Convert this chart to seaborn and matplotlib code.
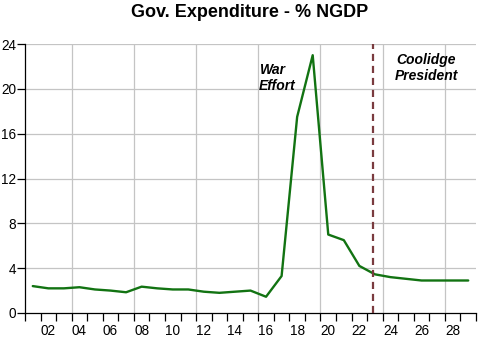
import matplotlib
matplotlib.use("Agg")
import matplotlib.pyplot as plt
import seaborn as sns
import pandas as pd
import numpy as np

# Federal government expenditure as a share of nominal GDP, 1901-1929
years = list(range(1901, 1930))
spending = [2.4, 2.2, 2.2, 2.3, 2.1, 2.0, 1.85, 2.35, 2.2, 2.1,
            2.1, 1.9, 1.8, 1.9, 2.0, 1.45, 3.3, 17.5, 23.0, 7.0,
            6.5, 4.2, 3.45, 3.2, 3.05, 2.9, 2.9, 2.9, 2.9]
label_years = list(range(1902, 1929, 2))
label_text = [f"{y % 100:02d}" for y in label_years]
y_ticks = [0, 4, 8, 12, 16, 20, 24]
coolidge_start = 1922.9

df = pd.DataFrame({"year": years, "pct": spending})

sns.set_style("white")
plt.rcParams["font.family"] = ["Liberation Sans", "DejaVu Sans"]
plt.rcParams["text.color"] = "black"
plt.rcParams["xtick.color"] = "black"
plt.rcParams["ytick.color"] = "black"

fig = plt.figure(figsize=(4.79, 3.37), dpi=100)
ax = fig.add_axes([25 / 479, 1 - 313 / 337, 451 / 479, 269 / 337])

ax.set_xlim(years[0] - 0.5, years[-1] + 0.5)
ax.set_ylim(0, 24)

# light grid: horizontal at every labelled value, vertical every four years
for v in y_ticks[1:]:
    ax.axhline(v, color="#c4c4c4", lw=0.9, zorder=0)
for b in np.arange(years[0] + 2.5, years[-1] + 0.5, 4):
    ax.axvline(b, color="#c4c4c4", lw=0.9, zorder=0)

sns.lineplot(data=df, x="year", y="pct", ax=ax, color="#127312", lw=1.7, zorder=3)

ax.axvline(coolidge_start, color="#7a3b3f", lw=1.6, ls=(0, (3.2, 2.2)), zorder=4)

# year boundaries carry the tick marks, labels sit in the middle of each year
ax.set_xticks(np.arange(years[0] - 0.5, years[-1] + 0.6, 1))
ax.set_xticklabels([])
ax.set_xticks(label_years, minor=True)
ax.set_xticklabels(label_text, minor=True)
ax.tick_params(axis="x", which="major", direction="out", length=5.5, width=0.9, color="black", bottom=True)
ax.tick_params(axis="x", which="minor", length=0, pad=8, labelsize=9.8, labelcolor="black")
ax.set_yticks(y_ticks)
ax.set_yticklabels([str(v) for v in y_ticks])
ax.tick_params(axis="y", direction="out", length=5.5, width=0.9, color="black", left=True, pad=1,
               labelsize=9.8, labelcolor="black")

for side in ("top", "right"):
    ax.spines[side].set_visible(False)
for side in ("left", "bottom"):
    ax.spines[side].set_color("black")
    ax.spines[side].set_linewidth(0.9)

ax.set_xlabel("")
ax.set_ylabel("")

note = dict(fontsize=10, fontweight="bold", fontstyle="italic", ha="left", va="center", color="black")
ax.text(1915.6, 21.7, "War", **note)
ax.text(1915.5, 20.25, "Effort", **note)
ax.text(1924.4, 22.55, "Coolidge", **note)
ax.text(1924.3, 21.15, "President", **note)

fig.text(249.5 / 479, 1 - 12.5 / 337, "Gov. Expenditure - % NGDP", ha="center", va="center",
         fontsize=13, fontweight="bold", color="black")

fig.savefig("out.png", dpi=100)
